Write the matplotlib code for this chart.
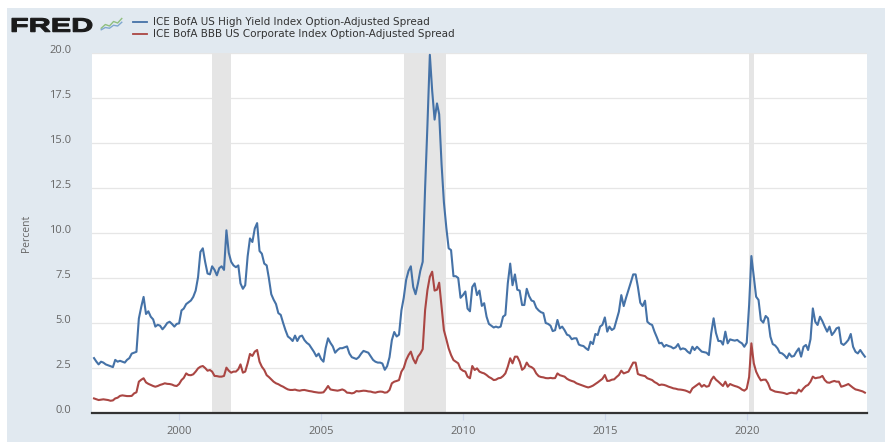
import numpy as np
import pandas as pd
import matplotlib
matplotlib.use("Agg")
import matplotlib.pyplot as plt
import matplotlib.dates as mdates
import matplotlib.transforms as mtransforms
from matplotlib.patches import Rectangle, PathPatch
from matplotlib.textpath import TextPath
from matplotlib.font_manager import FontProperties

plt.rcParams["font.family"] = ["Open Sans", "DejaVu Sans"]

W, H = 893, 442

# monthly observations, Jan 1997 .. Mar 2024
START = "1997-01-01"
HY_SPREAD = [
    3.05, 2.85, 2.70, 2.85, 2.80, 2.70, 2.65, 2.60, 2.55, 2.95, 2.85, 2.90,   # 1997
    2.85, 2.80, 2.95, 3.05, 3.30, 3.35, 3.40, 5.25, 5.90, 6.45, 5.50, 5.65,   # 1998
    5.35, 5.20, 4.80, 4.90, 4.85, 4.65, 4.80, 5.00, 5.07, 4.95, 4.80, 4.95,   # 1999
    4.98, 5.70, 5.80, 6.05, 6.15, 6.25, 6.45, 6.80, 7.55, 8.95, 9.15, 8.40,   # 2000
    7.75, 7.70, 8.15, 7.95, 7.65, 8.05, 8.15, 7.95, 10.15, 8.90, 8.40, 8.20,  # 2001
    8.10, 8.20, 7.20, 6.90, 7.10, 8.70, 9.70, 9.50, 10.25, 10.55, 9.00, 8.85, # 2002
    8.30, 8.20, 7.50, 6.60, 6.30, 6.05, 5.55, 5.45, 5.00, 4.60, 4.25, 4.15,   # 2003
    4.00, 4.30, 4.00, 4.25, 4.30, 4.05, 3.90, 3.80, 3.60, 3.40, 3.15, 3.30,   # 2004
    3.00, 2.85, 3.60, 4.15, 3.90, 3.70, 3.35, 3.50, 3.60, 3.60, 3.65, 3.70,   # 2005
    3.30, 3.10, 3.05, 3.00, 3.10, 3.30, 3.45, 3.40, 3.35, 3.15, 2.95, 2.85,   # 2006
    2.80, 2.80, 2.75, 2.40, 2.60, 3.10, 4.05, 4.50, 4.25, 4.35, 5.70, 6.40,   # 2007
    7.40, 7.90, 8.15, 7.00, 6.60, 7.20, 7.90, 8.40, 12.50, 16.00, 19.90, 17.90,  # 2008
    16.30, 17.20, 16.60, 13.80, 11.70, 10.30, 9.15, 9.05, 7.60, 7.60, 7.50, 6.40,  # 2009
    6.55, 6.75, 5.80, 5.65, 7.00, 7.20, 6.55, 6.80, 5.95, 6.10, 5.35, 4.95,   # 2010
    4.85, 4.75, 4.80, 4.75, 4.80, 5.35, 5.45, 7.20, 8.30, 7.10, 7.70, 6.85,   # 2011
    6.80, 6.00, 6.00, 6.90, 6.50, 6.25, 6.20, 5.85, 5.70, 5.60, 5.55, 5.00,   # 2012
    4.95, 4.85, 4.55, 4.60, 5.17, 4.70, 4.80, 4.60, 4.35, 4.30, 4.10, 4.15,   # 2013
    4.15, 3.80, 3.75, 3.72, 3.60, 3.50, 3.96, 3.83, 4.39, 4.33, 4.80, 4.90,   # 2014
    5.31, 4.52, 4.80, 4.61, 4.70, 5.17, 5.63, 6.55, 5.94, 6.40, 6.83, 7.25,   # 2015
    7.70, 7.70, 7.02, 6.13, 5.94, 6.24, 5.07, 4.95, 4.89, 4.52, 4.20, 3.87,   # 2016
    3.90, 3.68, 3.78, 3.72, 3.68, 3.59, 3.65, 3.83, 3.53, 3.59, 3.55, 3.41,   # 2017
    3.31, 3.68, 3.50, 3.68, 3.55, 3.41, 3.38, 3.35, 3.22, 4.43, 5.26, 4.45,   # 2018
    4.00, 4.00, 3.80, 4.52, 3.87, 4.09, 4.05, 4.02, 4.06, 3.95, 3.87, 3.68,   # 2019
    3.90, 6.00, 8.72, 7.57, 6.46, 6.28, 5.17, 5.02, 5.39, 5.26, 4.24, 3.83,   # 2020
    3.75, 3.59, 3.35, 3.31, 3.20, 3.04, 3.31, 3.13, 3.17, 3.40, 3.59, 3.13,   # 2021
    3.68, 3.78, 3.50, 4.10, 5.81, 5.07, 4.89, 5.35, 5.10, 4.80, 4.52, 4.80,   # 2022
    4.33, 4.50, 4.70, 4.76, 3.87, 3.78, 3.90, 4.06, 4.39, 3.68, 3.40, 3.31,   # 2023
    3.50, 3.30, 3.13,                                                         # 2024
]
BBB_SPREAD = [
    0.81, 0.76, 0.72, 0.74, 0.76, 0.74, 0.72, 0.68, 0.70, 0.81, 0.85, 0.95,   # 1997
    0.98, 0.96, 0.94, 0.94, 0.95, 1.09, 1.15, 1.74, 1.85, 1.93, 1.70, 1.62,   # 1998
    1.56, 1.50, 1.46, 1.50, 1.56, 1.60, 1.65, 1.62, 1.61, 1.58, 1.52, 1.50,   # 1999
    1.61, 1.83, 1.95, 2.20, 2.11, 2.10, 2.15, 2.30, 2.48, 2.57, 2.61, 2.50,   # 2000
    2.35, 2.39, 2.30, 2.06, 2.05, 2.02, 2.02, 2.06, 2.52, 2.35, 2.24, 2.30,   # 2001
    2.30, 2.43, 2.70, 2.24, 2.30, 2.76, 3.28, 3.17, 3.41, 3.50, 2.85, 2.57,   # 2002
    2.39, 2.10, 2.00, 1.87, 1.74, 1.65, 1.60, 1.52, 1.46, 1.38, 1.31, 1.28,   # 2003
    1.28, 1.30, 1.26, 1.24, 1.27, 1.28, 1.25, 1.22, 1.20, 1.17, 1.15, 1.13,   # 2004
    1.13, 1.15, 1.30, 1.50, 1.31, 1.28, 1.26, 1.24, 1.27, 1.31, 1.25, 1.13,   # 2005
    1.12, 1.09, 1.12, 1.22, 1.20, 1.22, 1.24, 1.23, 1.20, 1.19, 1.15, 1.13,   # 2006
    1.17, 1.19, 1.18, 1.13, 1.15, 1.28, 1.65, 1.74, 1.78, 1.83, 2.30, 2.50,   # 2007
    2.94, 3.22, 3.41, 3.00, 2.76, 3.13, 3.30, 3.55, 5.72, 6.83, 7.57, 7.85,   # 2008
    6.80, 6.85, 7.24, 5.90, 4.60, 4.10, 3.59, 3.22, 2.94, 2.85, 2.76, 2.45,   # 2009
    2.35, 2.30, 2.02, 1.93, 2.61, 2.39, 2.48, 2.30, 2.24, 2.20, 2.11, 2.00,   # 2010
    1.93, 1.83, 1.85, 1.93, 1.95, 2.05, 2.20, 2.57, 3.04, 2.76, 3.13, 3.13,   # 2011
    2.85, 2.40, 2.50, 2.80, 2.60, 2.55, 2.45, 2.20, 2.05, 2.00, 1.98, 1.94,   # 2012
    1.93, 1.95, 1.93, 1.94, 2.20, 2.10, 2.06, 2.02, 1.90, 1.83, 1.78, 1.74,   # 2013
    1.65, 1.60, 1.56, 1.50, 1.46, 1.42, 1.46, 1.52, 1.61, 1.70, 1.80, 1.90,   # 2014
    2.11, 1.78, 1.79, 1.85, 1.87, 2.00, 2.11, 2.35, 2.20, 2.25, 2.30, 2.55,   # 2015
    2.80, 2.80, 2.17, 2.11, 2.08, 2.05, 1.93, 1.88, 1.83, 1.72, 1.65, 1.55,   # 2016
    1.58, 1.56, 1.52, 1.46, 1.42, 1.37, 1.35, 1.31, 1.30, 1.28, 1.25, 1.20,   # 2017
    1.13, 1.37, 1.46, 1.56, 1.65, 1.46, 1.56, 1.46, 1.50, 1.83, 2.02, 1.85,   # 2018
    1.74, 1.61, 1.50, 1.74, 1.46, 1.61, 1.55, 1.50, 1.46, 1.40, 1.30, 1.24,   # 2019
    1.35, 2.00, 3.87, 2.76, 2.30, 2.02, 1.81, 1.85, 1.85, 1.65, 1.31, 1.25,   # 2020
    1.19, 1.17, 1.15, 1.13, 1.10, 1.05, 1.10, 1.13, 1.10, 1.09, 1.30, 1.19,   # 2021
    1.37, 1.50, 1.56, 1.74, 2.02, 1.93, 1.96, 1.98, 2.06, 1.83, 1.70, 1.68,   # 2022
    1.74, 1.78, 1.74, 1.74, 1.46, 1.50, 1.55, 1.61, 1.50, 1.40, 1.31, 1.28,   # 2023
    1.24, 1.20, 1.13,                                                         # 2024
]
RECESSIONS = [("2001-03-01", "2001-11-01"),
              ("2007-12-01", "2009-06-01"),
              ("2020-02-01", "2020-04-01")]
Y_TICKS = [0.0, 2.5, 5.0, 7.5, 10.0, 12.5, 15.0, 17.5, 20.0]
X_TICK_YEARS = [2000, 2005, 2010, 2015, 2020]
LABEL_HY = "ICE BofA US High Yield Index Option-Adjusted Spread"
LABEL_BBB = "ICE BofA BBB US Corporate Index Option-Adjusted Spread"

BLUE = "#4572a7"
RED = "#aa4643"
BG = "#e1e9f0"

dates = pd.date_range(START, periods=len(HY_SPREAD), freq="MS")

fig = plt.figure(figsize=(W / 100, H / 100), dpi=100)
fig.patch.set_facecolor("white")
# light blue FRED frame
fig.patches.append(Rectangle((7 / W, 0), (885 - 7) / W, (H - 8) / H,
                             transform=fig.transFigure, facecolor=BG,
                             edgecolor="none", zorder=-10))

ax = fig.add_axes([92 / W, 1 - 413 / H, (867 - 92) / W, (413 - 53) / H])
ax.set_facecolor("white")

for a, b in RECESSIONS:
    ax.axvspan(pd.Timestamp(a), pd.Timestamp(b), color="#e5e5e5", lw=0, zorder=1)

ax.plot(dates, HY_SPREAD, color=BLUE, lw=1.5, zorder=3, solid_joinstyle="round")
ax.plot(dates, BBB_SPREAD, color=RED, lw=1.5, zorder=3, solid_joinstyle="round")

ax.set_ylim(0, 20)
ax.set_xlim(pd.Timestamp("1996-12-06"), pd.Timestamp("2024-03-28"))
ax.set_yticks(Y_TICKS)
ax.set_yticklabels([f"{v:.1f}" for v in Y_TICKS])
ax.set_xticks([pd.Timestamp(f"{y}-01-01") for y in X_TICK_YEARS])
ax.xaxis.set_major_formatter(mdates.DateFormatter("%Y"))

ax.grid(axis="y", color="#e6e6e6", lw=0.9, zorder=0)
ax.set_axisbelow(True)
for s in ["top", "right", "left"]:
    ax.spines[s].set_visible(False)
ax.spines["bottom"].set_color("#333333")
ax.spines["bottom"].set_linewidth(1.6)
ax.spines["bottom"].set_zorder(5)

ax.tick_params(axis="y", length=0, pad=15, labelsize=8, labelcolor="#666666")
ax.tick_params(axis="x", length=5, width=0.8, color="#ccd6eb", pad=4,
               labelsize=8, labelcolor="#666666")
shift = mtransforms.ScaledTranslation(0, 4 / 100, fig.dpi_scale_trans)
for lab in ax.get_yticklabels():
    lab.set_transform(lab.get_transform() + shift)

fig.text(26 / W, 1 - 233 / H, "Percent", rotation=90, ha="center", va="center",
         fontsize=7.5, color="#666666")

# header: FRED wordmark, icon and legend
tp = TextPath((0, 0), "FRED", size=1,
              prop=FontProperties(family="Liberation Sans", weight="bold"))
ext = tp.get_extents()
sx = 80 / ext.width / 100
sy = 13.4 / ext.height / 100
tr = (mtransforms.Affine2D().translate(-ext.x0, -ext.y0).scale(sx, sy)
      .translate(12 / 100, (H - 31.7) / 100) + fig.dpi_scale_trans)
fig.patches.append(PathPatch(tp, transform=tr, facecolor="#1a1a1a",
                             edgecolor="#1a1a1a", lw=0.8))

icon = fig.add_axes([100 / W, 1 - 32 / H, 23 / W, 15 / H])
icon.set_facecolor("#d9e3ea")
icon.plot([0, 1, 2, 3, 4, 5], [1, 2, 1.6, 2.8, 2.4, 3.6], color="#8fbf7f", lw=1)
icon.plot([0, 1, 2, 3, 4, 5], [0.6, 1.2, 1.0, 1.8, 1.6, 2.6], color="#7fa7cf", lw=1)
icon.set_xlim(-0.3, 5.3)
icon.set_ylim(0, 4)
icon.axis("off")

for yy, col, txt in [(22.0, BLUE, LABEL_HY), (34.2, RED, LABEL_BBB)]:
    fig.add_artist(plt.Line2D([133 / W, 147 / W], [1 - yy / H, 1 - yy / H],
                              transform=fig.transFigure, color=col, lw=1.3))
    fig.text(153 / W, 1 - yy / H, txt, ha="left", va="center",
             fontsize=7.5, color="#333333", family="DejaVu Sans")

fig.savefig("out.png", dpi=100, facecolor=fig.get_facecolor())
